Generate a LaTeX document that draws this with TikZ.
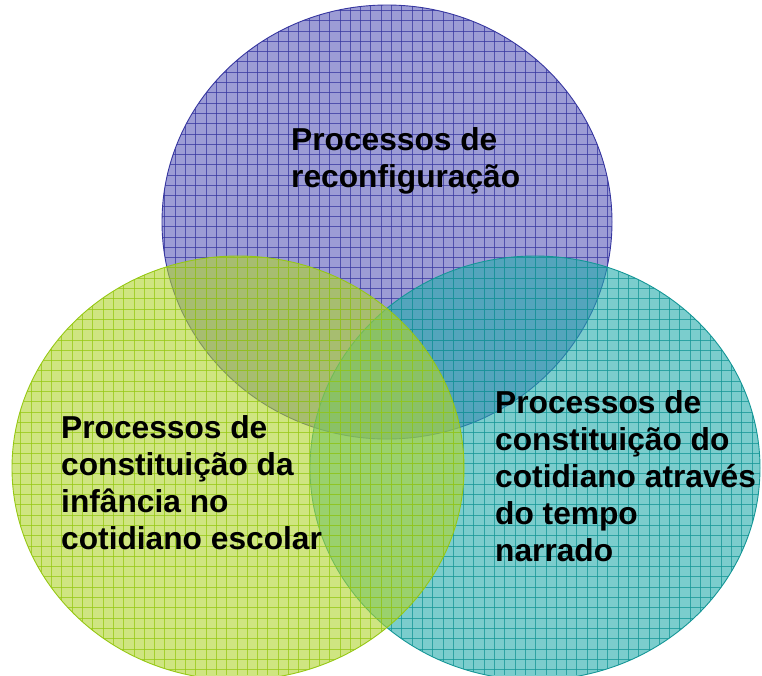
\documentclass[tikz,border=0pt]{standalone}
\usepackage{fontspec}
\setmainfont{Liberation Sans}
\definecolor{purpleBase}{RGB}{90,90,185}
\definecolor{purpleLine}{RGB}{55,55,160}
\definecolor{tealBase}{RGB}{35,172,172}
\definecolor{tealLine}{RGB}{20,150,150}
\definecolor{greenBase}{RGB}{175,212,45}
\definecolor{greenLine}{RGB}{150,200,20}
\tikzset{
  lbl/.style={anchor=north west, inner sep=0pt, align=left,
    font=\fontsize{31.7}{37}\selectfont\bfseries, text=black},
}
\newcommand{\vennset}[6]{% center x, y, base colour, line colour, x radius, y radius
  \begin{scope}
    \fill[#3, fill opacity=0.6] (#1,#2) ellipse [x radius=#5pt, y radius=#6pt];
    \clip (#1,#2) ellipse [x radius=#5pt, y radius=#6pt];
    \foreach \i in {0,...,74} {
      \draw[#4, draw opacity=0.75, line width=0.8pt] (\i*10.3,0) -- (\i*10.3,675);
    }
    \foreach \j in {0,...,66} {
      \draw[#4, draw opacity=0.75, line width=0.8pt] (0,\j*10.3) -- (762,\j*10.3);
    }
  \end{scope}
  \draw[#4, line width=0.9pt] (#1,#2) ellipse [x radius=#5pt, y radius=#6pt];
}
\begin{document}
\begin{tikzpicture}[x=1pt, y=-1pt]
\useasboundingbox (0,0) rectangle (762,675);
\fill[white] (0,0) rectangle (762,675);
\vennset{387}{222}{purpleBase}{purpleLine}{225}{217}
\vennset{535}{468}{tealBase}{tealLine}{225}{212}
\vennset{238}{468}{greenBase}{greenLine}{226}{212}
\node[lbl] (top) at (291,127) {Processos de\\reconfiguração};
\node[lbl] (left) at (61,415) {Processos de\\constituição da\\infância no\\cotidiano escolar};
\node[lbl] (right) at (495,390) {Processos de\\constituição do\\cotidiano através\\do tempo\\narrado};
\end{tikzpicture}
\end{document}
